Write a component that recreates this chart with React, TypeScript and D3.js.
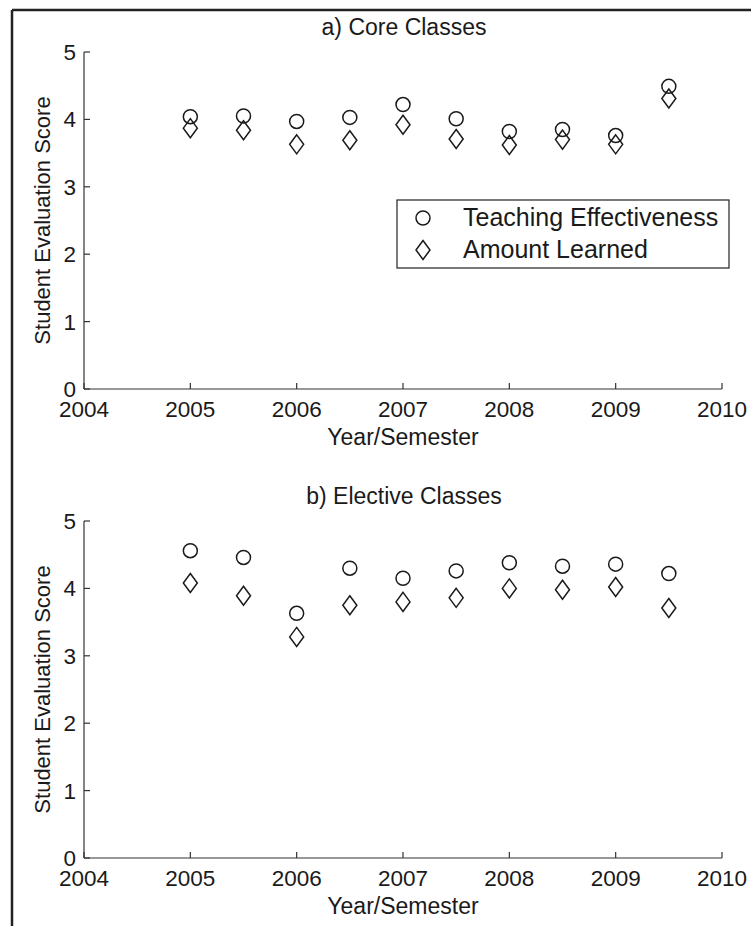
import React from 'react';
import * as d3 from 'd3';

// semester midpoints (fall/spring)
const semesters = [2005, 2005.5, 2006, 2006.5, 2007, 2007.5, 2008, 2008.5, 2009, 2009.5];

const coreTeaching = [4.04, 4.05, 3.97, 4.03, 4.22, 4.01, 3.82, 3.85, 3.76, 4.49];
const coreLearned = [3.87, 3.84, 3.63, 3.69, 3.92, 3.71, 3.62, 3.7, 3.63, 4.31];

const electiveTeaching = [4.56, 4.46, 3.63, 4.3, 4.15, 4.26, 4.38, 4.33, 4.36, 4.22];
const electiveLearned = [4.08, 3.89, 3.28, 3.75, 3.8, 3.86, 4.0, 3.98, 4.02, 3.71];

const xTicks = [2004, 2005, 2006, 2007, 2008, 2009, 2010];
const yTicks = [0, 1, 2, 3, 4, 5];

const W = 751;
const H = 926;
const FONT = 'Liberation Sans, Arial, Helvetica, sans-serif';
const INK = '#1a1a1a';

const circleR = 7;
const diamondPath = (w: number, h: number) => `M0,${-h / 2}L${w / 2},0L0,${h / 2}L${-w / 2},0Z`;

type PanelProps = {
    top: number;
    title: string;
    teaching: number[];
    learned: number[];
    legend?: boolean;
};

const Panel = ({ top, title, teaching, learned, legend }: PanelProps) => {
    const x = d3.scaleLinear().domain([2004, 2010]).range([84, 722]);
    const y = d3.scaleLinear().domain([0, 5]).range([top + 337, top]);
    const y0 = y(0);
    const tick = 6;

    return (
        <g>
            <text x={404} y={top - 17} textAnchor="middle" fontSize={23} fontFamily={FONT} fill={INK}>
                {title}
            </text>

            {/* axes, MATLAB style ticks pointing inward */}
            <line x1={x(2004)} x2={x(2010)} y1={y0} y2={y0} stroke="#333" strokeWidth={1.2} />
            <line x1={x(2004)} x2={x(2004)} y1={y(0)} y2={y(5)} stroke="#333" strokeWidth={1.2} />
            {xTicks.map(t => (
                <g key={'x' + t}>
                    <line x1={x(t)} x2={x(t)} y1={y0} y2={y0 - tick} stroke="#333" strokeWidth={1.2} />
                    <text x={x(t)} y={y0 + 28} textAnchor="middle" fontSize={22.5} fontFamily={FONT} fill={INK}>
                        {t}
                    </text>
                </g>
            ))}
            {yTicks.map(t => (
                <g key={'y' + t}>
                    <line x1={x(2004)} x2={x(2004) + tick} y1={y(t)} y2={y(t)} stroke="#333" strokeWidth={1.2} />
                    <text x={x(2004) - 8} y={y(t) + 8} textAnchor="end" fontSize={22.5} fontFamily={FONT} fill={INK}>
                        {t}
                    </text>
                </g>
            ))}

            <text x={403} y={y0 + 56} textAnchor="middle" fontSize={23} fontFamily={FONT} fill={INK}>
                Year/Semester
            </text>
            <text
                transform={`translate(50,${(y(0) + y(5)) / 2}) rotate(-90)`}
                textAnchor="middle"
                fontSize={22}
                fontFamily={FONT}
                fill={INK}
            >
                Student Evaluation Score
            </text>

            {/* markers */}
            {semesters.map((s, i) => (
                <circle key={'c' + i} cx={x(s)} cy={y(teaching[i])} r={circleR} fill="none" stroke={INK} strokeWidth={1.5} />
            ))}
            {semesters.map((s, i) => (
                <path
                    key={'d' + i}
                    d={diamondPath(14, 19)}
                    transform={`translate(${x(s)},${y(learned[i])})`}
                    fill="none"
                    stroke={INK}
                    strokeWidth={1.5}
                />
            ))}

            {legend && (
                <g>
                    <rect x={397} y={200} width={332} height={68} fill="white" stroke="#222" strokeWidth={1.2} />
                    <circle cx={423} cy={218} r={circleR} fill="none" stroke={INK} strokeWidth={1.5} />
                    <text x={463} y={226} fontSize={25} fontFamily={FONT} fill={INK}>
                        Teaching Effectiveness
                    </text>
                    <path d={diamondPath(14, 19)} transform="translate(423,250)" fill="none" stroke={INK} strokeWidth={1.5} />
                    <text x={463} y={258} fontSize={25} fontFamily={FONT} fill={INK}>
                        Amount Learned
                    </text>
                </g>
            )}
        </g>
    );
};

export default function App() {
    return (
        <svg width={W} height={H} style={{ position: 'absolute', left: 0, top: 0, background: 'white' }}>
            <rect x={0} y={0} width={W} height={H} fill="white" />
            {/* outer frame, cut off at right and bottom */}
            <line x1={12} x2={W} y1={10} y2={10} stroke="#222" strokeWidth={2.5} />
            <line x1={12} x2={12} y1={10} y2={H} stroke="#222" strokeWidth={2.5} />
            <Panel top={52} title="a) Core Classes" teaching={coreTeaching} learned={coreLearned} legend />
            <Panel top={521} title="b) Elective Classes" teaching={electiveTeaching} learned={electiveLearned} />
        </svg>
    );
}
